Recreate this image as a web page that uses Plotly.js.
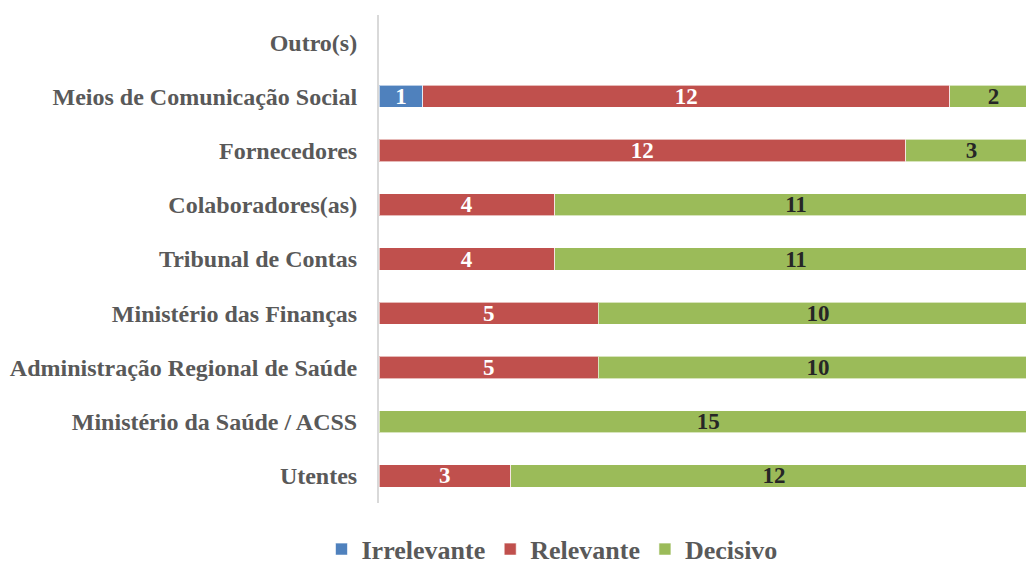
<!DOCTYPE html>
<html>
<head>
<meta charset="utf-8">
<script src="https://cdn.plot.ly/plotly-3.0.1.min.js"></script>
<style>html,body{margin:0;padding:0;background:#fff;}#chart{width:1026px;height:565px;}</style>
</head>
<body>
<div id="chart"></div>
<script>
const categories = ["Utentes", "Ministério da Saúde / ACSS", "Administração Regional de Saúde", "Ministério das Finanças", "Tribunal de Contas", "Colaboradores(as)", "Fornecedores", "Meios de Comunicação Social", "Outro(s)"];
const irrelevante = [0, 0, 0, 0, 0, 0, 0, 1, 0];
const relevante = [3, 0, 5, 5, 4, 4, 12, 12, 0];
const decisivo = [12, 15, 10, 10, 11, 11, 3, 2, 0];

function labels(arr) { return arr.map(v => v > 0 ? String(v) : ""); }
const font = "'Liberation Serif', serif";

function trace(name, vals, color, textColor) {
  return {
    type: "bar", orientation: "h", name: name,
    y: categories, x: vals,
    marker: {color: color, line: {color: "rgba(255,255,255,0.6)", width: 1}},
    text: labels(vals), textposition: "inside", insidetextanchor: "middle", textangle: 0,
    textfont: {family: font, size: 23, color: textColor, weight: "bold"},
    constraintext: "none",
    hoverinfo: "x+name"
  };
}

const data = [
  trace("Irrelevante", irrelevante, "#4F81BD", "#ffffff"),
  trace("Relevante", relevante, "#C0504D", "#ffffff"),
  trace("Decisivo", decisivo, "#9BBB59", "#262626")
];

const layout = {
  width: 1026, height: 565,
  barmode: "stack", bargap: 0.59,
  margin: {l: 379, r: 0, t: 15, b: 62, autoexpand: false},
  paper_bgcolor: "#fff", plot_bgcolor: "#fff",
  font: {family: font, color: "#595959"},
  uniformtext: {mode: false},
  xaxis: {range: [0, 14.74], showgrid: false, zeroline: false, showticklabels: false, ticks: "", fixedrange: true},
  yaxis: {
    type: "category", range: [-0.5, 8.5], showgrid: false, zeroline: false,
    showline: true, linecolor: "#d9d9d9", linewidth: 2,
    ticks: "", ticklabelstandoff: 15,
    tickfont: {family: font, size: 24, color: "#595959", weight: "bold"},
    automargin: false
  },
  legend: {
    orientation: "h", x: 0.538, xanchor: "center", xref: "container",
    y: 0.028, yanchor: "middle", yref: "container",
    font: {family: font, size: 26, color: "#595959", weight: "bold"},
    itemwidth: 30, tracegroupgap: 0, traceorder: "normal"
  },
  showlegend: true
};

Plotly.newPlot("chart", data, layout, {displayModeBar: false, staticPlot: true});
</script>
</body>
</html>
